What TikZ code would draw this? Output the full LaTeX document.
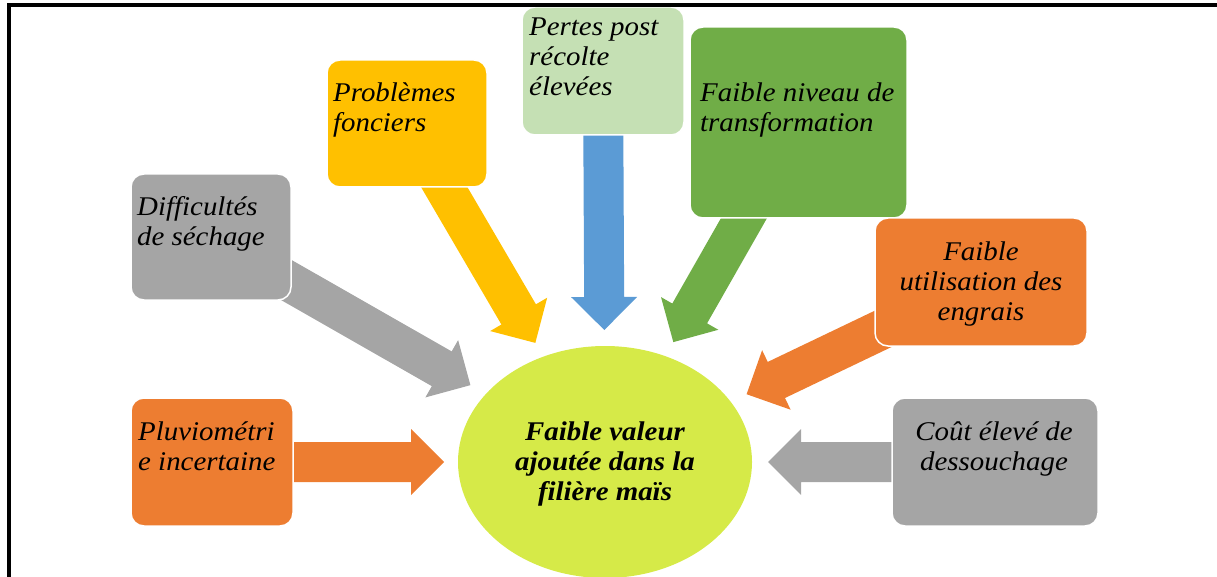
\documentclass[tikz,border=0pt]{standalone}
\usepackage{fontspec}
\setmainfont{Liberation Serif}[FakeStretch=1.07]
\usetikzlibrary{calc,shapes.geometric,backgrounds}

\definecolor{cOrange}{HTML}{ED7D31}
\definecolor{cGray}{HTML}{A5A5A5}
\definecolor{cYellow}{HTML}{FFC000}
\definecolor{cBlue}{HTML}{5B9BD5}
\definecolor{cGreen}{HTML}{70AD47}
\definecolor{cPale}{HTML}{C5E0B4}
\definecolor{cLime}{HTML}{D6EA48}

% Block arrow from the centre of a box towards the ellipse centre;
% #1 colour, #2 box name, #3 distance of the tip from the ellipse centre
\newcommand\fatarrow[3]{%
  \coordinate (#2-tip) at ($(ell.center)!#3!(#2.center)$);
  \coordinate (#2-base) at ($(#2-tip)!33pt!(#2.center)$);
  \fill[#1] ($(#2.center)!20pt!90:(#2-tip)$)
    -- ($(#2-base)!20pt!90:(#2-tip)$)
    -- ($(#2-base)!33pt!90:(#2-tip)$)
    -- (#2-tip)
    -- ($(#2-base)!33pt!-90:(#2-tip)$)
    -- ($(#2-base)!20pt!-90:(#2-tip)$)
    -- ($(#2.center)!20pt!-90:(#2-tip)$) -- cycle;}

\begin{document}
\begin{tikzpicture}[x=1pt,y=-1pt,
  box/.style={rectangle, rounded corners=13pt, draw=white, line width=1.5pt, inner sep=0pt},
  txt/.style={font=\itshape\fontsize{27}{30}\selectfont, inner sep=0pt},
  lefttxt/.style={txt, align=left, anchor=north west},
  midtxt/.style={txt, align=center, anchor=north}]
\useasboundingbox (0,0) rectangle (1217,577);

% central ellipse
\node[ellipse, fill=cLime, inner sep=0pt, minimum width=294pt, minimum height=232pt] (ell) at (605,462) {};

% cause boxes
\node[box, fill=cOrange, minimum width=162pt, minimum height=128pt] (pluvio) at (212,462) {};
\node[box, fill=cGray, minimum width=160pt, minimum height=126pt] (diff) at (211,237) {};
\node[box, fill=cYellow, minimum width=160pt, minimum height=127pt] (prob) at (407,123.5) {};
\node[box, fill=cPale, minimum width=162pt, minimum height=128pt] (pertes) at (603,71) {};
\node[box, fill=cGreen, minimum width=217pt, minimum height=191pt] (niveau) at (798.5,122.5) {};
\node[box, fill=cOrange, minimum width=212pt, minimum height=128pt] (engrais) at (981,282) {};
\node[box, fill=cGray, minimum width=206pt, minimum height=128pt] (cout) at (995,462) {};

% arrows lie underneath the boxes
\begin{pgfonlayer}{background}
  \fatarrow{cOrange}{pluvio}{161pt}
  \fatarrow{cGray}{diff}{155pt}
  \fatarrow{cYellow}{prob}{138pt}
  \fatarrow{cBlue}{pertes}{132pt}
  \fatarrow{cGreen}{niveau}{138pt}
  \fatarrow{cOrange}{engrais}{157pt}
  \fatarrow{cGray}{cout}{163pt}
\end{pgfonlayer}

% labels
\node[lefttxt] (pluvio-txt) at (138,419) {\strut Pluviométri\\e incertaine};
\node[lefttxt] (diff-txt) at (137,194) {\strut Difficultés\\de séchage};
\node[lefttxt] (prob-txt) at (333,80) {\strut Problèmes\\fonciers};
\node[lefttxt] (pertes-txt) at (529,14) {\strut Pertes post\\récolte\\élevées};
\node[lefttxt] (niveau-txt) at (700,80) {\strut Faible niveau de\\transformation};
\node[midtxt] (engrais-txt) at (981,239) {\strut Faible\\utilisation des\\engrais};
\node[midtxt] (cout-txt) at (994,419) {\strut Coût élevé de\\dessouchage};
\node[midtxt, font=\bfseries\itshape\fontsize{27}{30}\selectfont] (ell-txt) at (605,419)
  {\strut Faible valeur\\ajoutée dans la\\filière maïs};

% frame
\draw[line width=3.8pt, line join=miter] (9.3,580) -- (9.3,5.3) -- (1220,5.3);
\end{tikzpicture}
\end{document}
